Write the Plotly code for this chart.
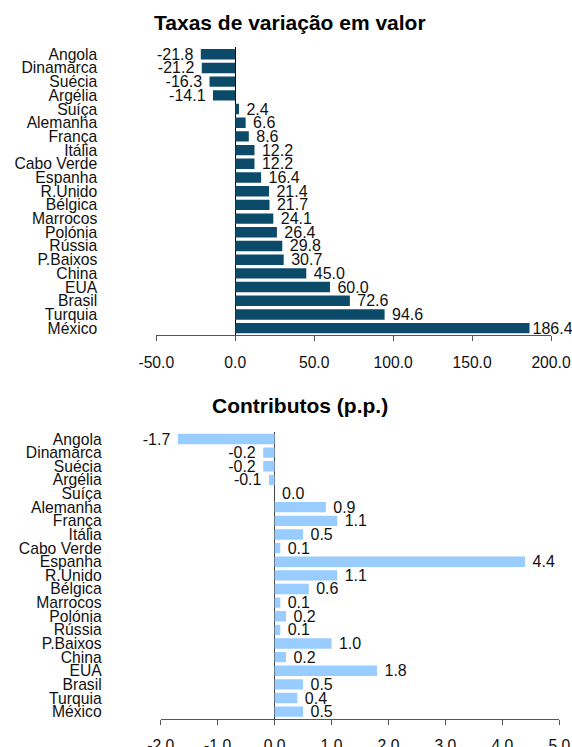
import plotly.graph_objects as go

countries = ["Angola", "Dinamarca", "Suécia", "Argélia", "Suíça", "Alemanha", "França",
             "Itália", "Cabo Verde", "Espanha", "R.Unido", "Bélgica", "Marrocos", "Polónia",
             "Rússia", "P.Baixos", "China", "EUA", "Brasil", "Turquia", "México"]
taxas = [-21.8, -21.2, -16.3, -14.1, 2.4, 6.6, 8.6, 12.2, 12.2, 16.4, 21.4, 21.7, 24.1,
         26.4, 29.8, 30.7, 45.0, 60.0, 72.6, 94.6, 186.4]
contributos = [-1.7, -0.2, -0.2, -0.1, 0.0, 0.9, 1.1, 0.5, 0.1, 4.4, 1.1, 0.6, 0.1,
               0.2, 0.1, 1.0, 0.2, 1.8, 0.5, 0.4, 0.5]
ticks_top = [-50, 0, 50, 100, 150, 200]
ticks_bot = [-2, -1, 0, 1, 2, 3, 4, 5]

title_top = "Taxas de variação em valor"
title_bot = "Contributos (p.p.)"

FONT = "Liberation Sans, Arial, sans-serif"
FS = 15.7
NB = "\u00a0"


def lab(v, vmax):
    s = f"{v:.1f}"
    if v < 0:
        return s + NB
    # the longest bar's label sits tight against the bar (edge of the chart)
    return s if v >= 0.9 * vmax else NB + s


fig = go.Figure()
fig.add_trace(go.Bar(
    y=countries, x=taxas, orientation="h", marker=dict(color="#0C4A6A", line=dict(width=0)),
    text=[lab(v, 200) for v in taxas], textposition="outside", cliponaxis=False,
    constraintext="none", textangle=0,
    textfont=dict(size=16, color="#111111", family=FONT),
    xaxis="x", yaxis="y"))
fig.add_trace(go.Bar(
    y=countries, x=contributos, orientation="h", marker=dict(color="#99CCFF", line=dict(width=0)),
    text=[lab(v, 100) for v in contributos], textposition="outside", cliponaxis=False,
    constraintext="none", textangle=0,
    textfont=dict(size=16, color="#111111", family=FONT),
    xaxis="x2", yaxis="y2"))

W, H = 572, 747


def px_dom(a, b, total, invert=False):
    if invert:
        return [1 - b / total, 1 - a / total]
    return [a / total, b / total]


def px_x(x):
    return x / W


def px_y(y):
    return 1 - y / H


xcommon = dict(showgrid=False, zeroline=True, zerolinewidth=1, showline=True,
               linecolor="#555555", linewidth=1, ticks="outside", ticklen=5,
               tickcolor="#555555", tickfont=dict(size=FS, color="#111111", family=FONT),
               ticklabelstandoff=8, fixedrange=True, automargin=False)
ycommon = dict(showgrid=False, zeroline=False, showline=False, ticks="",
               tickmode="array", tickvals=countries, ticktext=countries,
               tickfont=dict(size=FS, color="#111111", family=FONT),
               ticklabelstandoff=58, autorange="reversed", fixedrange=True, automargin=False)

fig.update_layout(
    width=W, height=H, margin=dict(l=0, r=0, t=0, b=0, autoexpand=False),
    paper_bgcolor="white", plot_bgcolor="white", showlegend=False,
    bargap=0.24, font=dict(family=FONT, size=FS, color="#111111"),
    xaxis=dict(**xcommon, domain=px_dom(156.3, 551, W), range=[-50, 200],
               tickvals=ticks_top, ticktext=[f"{t:.1f}" for t in ticks_top],
               anchor="y", zerolinecolor="#000000"),
    yaxis=dict(**ycommon, domain=px_dom(47.4, 335, H, invert=True), anchor="x"),
    xaxis2=dict(**xcommon, domain=px_dom(160.7, 559.3, W), range=[-2, 5],
                tickvals=ticks_bot, ticktext=[f"{t:.1f}" for t in ticks_bot],
                anchor="y2", zerolinecolor="#444444"),
    yaxis2=dict(**ycommon, domain=px_dom(432.2, 718.5, H, invert=True), anchor="x2"),
    annotations=[
        dict(text=f"<b>{title_top}</b>", x=px_x(290), y=px_y(22), xref="paper", yref="paper",
             showarrow=False, font=dict(size=21, family=FONT, color="#000000"),
             xanchor="center", yanchor="middle"),
        dict(text=f"<b>{title_bot}</b>", x=px_x(299.7), y=px_y(405), xref="paper", yref="paper",
             showarrow=False, font=dict(size=21, family=FONT, color="#000000"),
             xanchor="center", yanchor="middle"),
    ],
)

post = ("document.documentElement.style.margin='0';document.documentElement.style.padding='0';"
        "document.documentElement.style.overflow='hidden';"
        "document.body.style.margin='0';document.body.style.padding='0';"
        "document.body.style.overflow='hidden';")
fig.write_html("out.html", post_script=post, config={"displayModeBar": False})
